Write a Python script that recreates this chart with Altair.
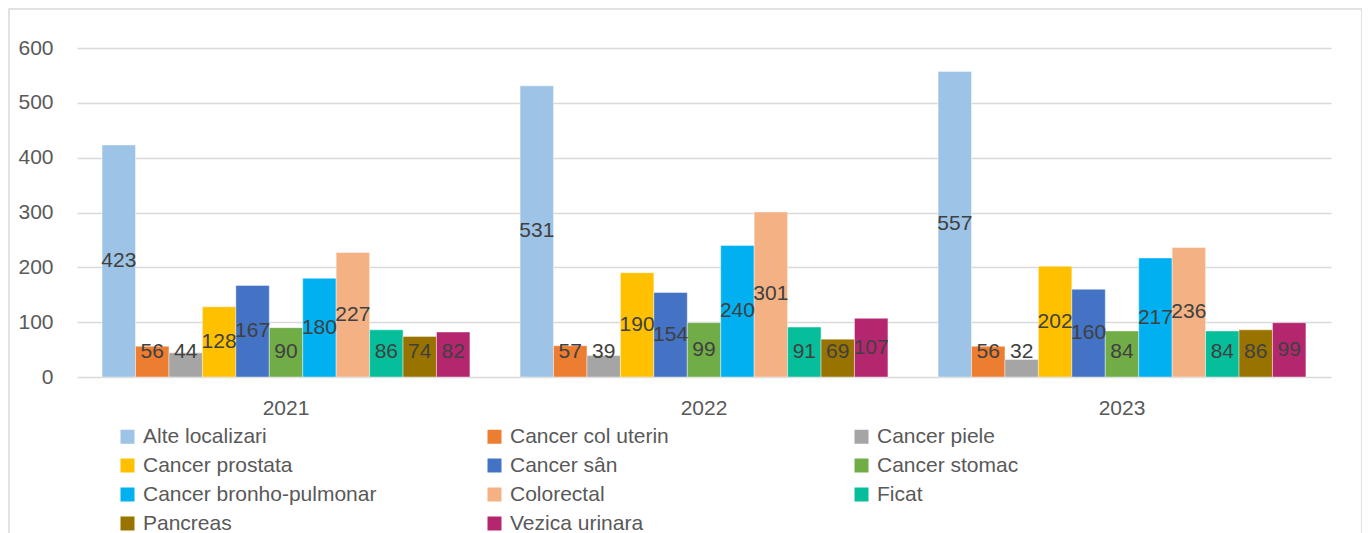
import altair as alt
import pandas as pd

years = ["2021", "2022", "2023"]
series = [
    "Alte localizari", "Cancer col uterin", "Cancer piele",
    "Cancer prostata", "Cancer sân", "Cancer stomac",
    "Cancer bronho-pulmonar", "Colorectal", "Ficat",
    "Pancreas", "Vezica urinara",
]
colors = [
    "#9DC3E6", "#ED7D31", "#A5A5A5",
    "#FFC000", "#4472C4", "#70AD47",
    "#00B0F0", "#F4B183", "#07BE9B",
    "#997300", "#B4276F",
]
v2021 = [423, 56, 44, 128, 167, 90, 180, 227, 86, 74, 82]
v2022 = [531, 57, 39, 190, 154, 99, 240, 301, 91, 69, 107]
v2023 = [557, 56, 32, 202, 160, 84, 217, 236, 84, 86, 99]
y_ticks = [0, 100, 200, 300, 400, 500, 600]

# legend is filled column by column: reorder so rows read like the reference
n_cols, n_rows = 3, 4
legend_order = [series[r * n_cols + c] for c in range(n_cols) for r in range(n_rows)
                if r * n_cols + c < len(series)]
legend_colors = [colors[series.index(s)] for s in legend_order]

rows = []
for i, s in enumerate(series):
    for y, vals in zip(years, [v2021, v2022, v2023]):
        rows.append({"year": y, "series": s, "value": vals[i]})
df = pd.DataFrame(rows)

FONT = "Liberation Sans"

base = alt.Chart(df).encode(
    x=alt.X(
        "year:N", sort=years, title="",
        scale=alt.Scale(paddingInner=0.12, paddingOuter=0.06),
        axis=alt.Axis(labelAngle=0, labelFontSize=21, labelColor="#595959",
                      labelPadding=20, ticks=False, tickSize=0, domain=False, grid=False),
    ),
    xOffset=alt.XOffset("series:N", sort=series),
)

bars = base.mark_bar(stroke="white", strokeWidth=0.6, strokeOpacity=0.7).encode(
    y=alt.Y(
        "value:Q", title="",
        scale=alt.Scale(domain=[0, 600], nice=False),
        axis=alt.Axis(values=y_ticks, labelFontSize=21, labelColor="#595959",
                      labelPadding=24, ticks=False, tickSize=0, domain=False,
                      grid=True, gridColor="#D9D9D9", gridWidth=1.4),
    ),
    color=alt.Color(
        "series:N",
        scale=alt.Scale(domain=legend_order, range=legend_colors),
        legend=alt.Legend(
            title=None, orient="none", legendX=40, legendY=378, columns=3,
            gridAlign="all", columnPadding=107, rowPadding=7,
            symbolType="square", symbolSize=196, symbolStrokeWidth=0,
            labelFontSize=21, labelColor="#595959", labelOffset=5,
            labelLimit=400, padding=0,
        ),
    ),
)

labels = base.transform_calculate(
    labelpos="max(datum.value / 2, 45.5)"
).mark_text(fontSize=21, color="#404040", baseline="middle", align="center").encode(
    y=alt.Y("labelpos:Q"),
    text=alt.Text("value:Q"),
)

frame = alt.Chart(pd.DataFrame({"f": [0]})).mark_rect(
    fillOpacity=0, stroke="#D9D9D9", strokeWidth=1.5
).encode(
    x=alt.value(-68), x2=alt.value(1285), y=alt.value(-39), y2=alt.value(540)
)

chart = alt.layer(frame, bars, labels).properties(
    width=1254, height=329,
    autosize=alt.AutoSizeParams(type="none"),
    padding={"left": 69, "top": 40, "right": 31, "bottom": 156},
).configure(font=FONT).configure_view(stroke="transparent")

chart.save("out.html", embed_options={"renderer": "svg", "actions": False})
